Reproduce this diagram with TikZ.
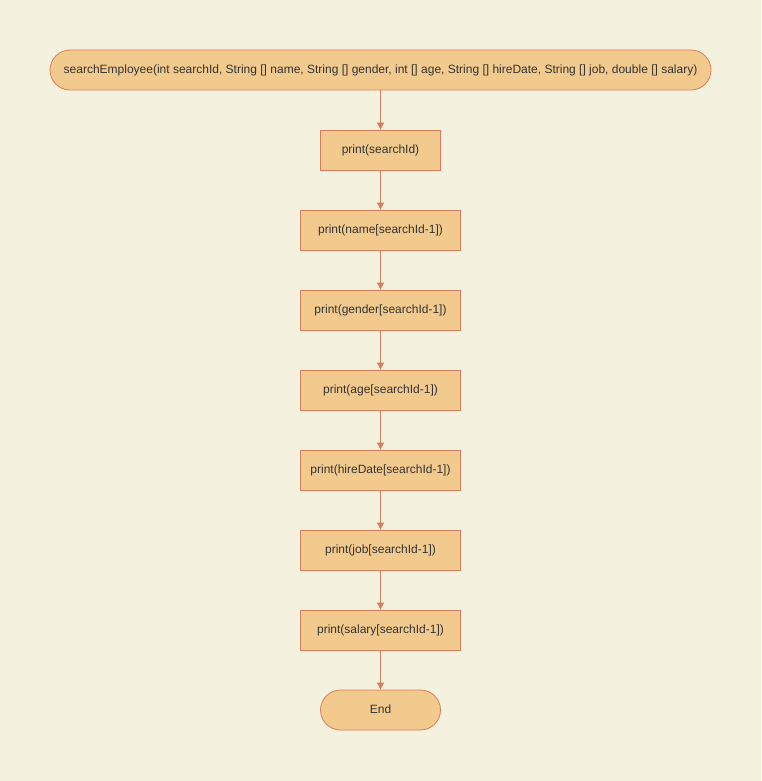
\documentclass[tikz,border=0pt]{standalone}
\usepackage{fontspec}
\setmainfont{Liberation Sans}
\usetikzlibrary{arrows.meta}
\definecolor{bg}{HTML}{F5F1DF}
\definecolor{boxfill}{HTML}{F2CA8E}
\definecolor{boxline}{HTML}{DA7C5C}
\definecolor{txt}{HTML}{333333}
\begin{document}
\begin{tikzpicture}[x=1pt,y=-1pt,
  base/.style={draw=boxline,fill=boxfill,line width=0.8pt,text=txt,font=\fontsize{12}{14}\selectfont,inner sep=0pt,minimum height=40pt,text depth=0pt,text height=7pt},
  term/.style={base,rounded corners=20pt},
  proc/.style={base},
  conn/.style={draw=boxline,line width=0.8pt,-{Triangle[length=7pt,width=7pt]}}]
\fill[bg] (0,0) rectangle (761,781);
\useasboundingbox (0,0) rectangle (761,781);
\node[term,minimum width=661pt] (s) at (380.5,70) {searchEmployee(int searchId, String [] name, String [] gender, int [] age, String [] hireDate, String [] job, double [] salary)};
\node[proc,minimum width=120pt] (p1) at (380.5,150) {print(searchId)};
\node[proc,minimum width=160pt] (p2) at (380.5,230) {print(name[searchId-1])};
\node[proc,minimum width=160pt] (p3) at (380.5,310) {print(gender[searchId-1])};
\node[proc,minimum width=160pt] (p4) at (380.5,390) {print(age[searchId-1])};
\node[proc,minimum width=160pt] (p5) at (380.5,470) {print(hireDate[searchId-1])};
\node[proc,minimum width=160pt] (p6) at (380.5,550) {print(job[searchId-1])};
\node[proc,minimum width=160pt] (p7) at (380.5,630) {print(salary[searchId-1])};
\node[term,minimum width=120pt] (e) at (380.5,710) {End};
\draw[conn] (s) -- (p1);
\draw[conn] (p1) -- (p2);
\draw[conn] (p2) -- (p3);
\draw[conn] (p3) -- (p4);
\draw[conn] (p4) -- (p5);
\draw[conn] (p5) -- (p6);
\draw[conn] (p6) -- (p7);
\draw[conn] (p7) -- (e);
\end{tikzpicture}
\end{document}
